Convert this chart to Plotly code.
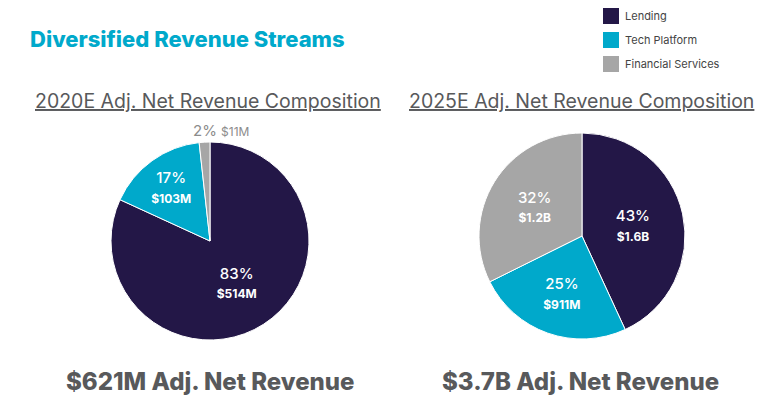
import math
import plotly.graph_objects as go

categories = ["Lending", "Tech Platform", "Financial Services"]
colors = ["#231747", "#00A9CB", "#A6A6A6"]

values_2020 = [514, 103, 11]          # $M
pct_2020 = ["83%", "17%", "2%"]
amt_2020 = ["$514M", "$103M", "$11M"]

values_2025 = [1600, 911, 1200]       # $M
pct_2025 = ["43%", "25%", "32%"]
amt_2025 = ["$1.6B", "$911M", "$1.2B"]

title = "Diversified Revenue Streams"
sub_2020 = "2020E Adj. Net Revenue Composition"
sub_2025 = "2025E Adj. Net Revenue Composition"
total_2020 = "$621M Adj. Net Revenue"
total_2025 = "$3.7B Adj. Net Revenue"

FONT = "Inter"
W, H = 768, 399

tmpl_in = "%{text}<br><span style='font-size:12px'><b>%{customdata}</b></span>"

dom1 = dict(x=[111 / W, 309 / W], y=[1 - 340 / H, 1 - 142 / H])
dom2 = dict(x=[479 / W, 685 / W], y=[1 - 339 / H, 1 - 133 / H])

fig = go.Figure()
fig.add_trace(go.Pie(
    labels=categories, values=values_2020, text=pct_2020, customdata=amt_2020,
    texttemplate=[tmpl_in, tmpl_in, ""],
    textposition="inside",
    insidetextorientation="horizontal",
    insidetextfont=dict(color="white", size=15, family=FONT, weight=500),
    marker=dict(colors=colors, line=dict(color="white", width=1)),
    sort=False, direction="clockwise", rotation=0,
    domain=dom1, hoverinfo="label+value", showlegend=False,
))
fig.add_trace(go.Pie(
    labels=categories, values=values_2025, text=pct_2025, customdata=amt_2025,
    texttemplate=tmpl_in, textposition="inside",
    insidetextorientation="horizontal",
    insidetextfont=dict(color="white", size=15, family=FONT, weight=500),
    marker=dict(colors=colors, line=dict(color="white", width=1)),
    sort=False, direction="clockwise", rotation=0,
    domain=dom2, hoverinfo="label+value", showlegend=False,
))

annots = [
    dict(text=title, x=28 / W, y=1 - 39 / H, xanchor="left", yanchor="middle",
         font=dict(family=FONT, size=22, color="#00A9CB", weight=800)),
    dict(text=f"<u>{sub_2020}</u>", x=208 / W, y=1 - 101 / H, xanchor="center", yanchor="middle",
         font=dict(family=FONT, size=19.5, color="#58595B")),
    dict(text=f"<u>{sub_2025}</u>", x=581 / W, y=1 - 101 / H, xanchor="center", yanchor="middle",
         font=dict(family=FONT, size=19.5, color="#58595B")),
    dict(text=total_2020, x=210 / W, y=1 - 381 / H, xanchor="center", yanchor="middle",
         font=dict(family=FONT, size=24, color="#58595B", weight=800)),
    dict(text=total_2025, x=580 / W, y=1 - 381 / H, xanchor="center", yanchor="middle",
         font=dict(family=FONT, size=24, color="#58595B", weight=800)),
]

# small-slice label (Financial Services 2020) placed just outside its slice, derived from data
tot = sum(values_2020)
start = sum(values_2020[:2]) / tot
mid = (start + values_2020[2] / tot / 2) * 2 * math.pi
cx = (dom1["x"][0] + dom1["x"][1]) / 2
cy = (dom1["y"][0] + dom1["y"][1]) / 2
r_px = (dom1["y"][1] - dom1["y"][0]) * H / 2
lx = cx + (r_px + 12) * math.sin(mid) / W
ly = cy + (r_px + 12) * math.cos(mid) / H
annots.append(dict(
    text=f"{pct_2020[2]} <span style='font-size:12px'>{amt_2020[2]}</span>",
    x=lx, y=ly, xanchor="left", yanchor="middle", xshift=-13,
    font=dict(family=FONT, size=15, color="#8C8C8C")))

# legend built from categories / colours
shapes = []
for i, (cat, col) in enumerate(zip(categories, colors)):
    top = 8 + 24 * i
    shapes.append(dict(type="rect", xref="paper", yref="paper",
                       x0=603 / W, x1=619 / W, y0=1 - (top + 16) / H, y1=1 - top / H,
                       fillcolor=col, line=dict(width=0)))
    annots.append(dict(text=cat, x=623 / W, y=1 - (top + 8) / H, xanchor="left", yanchor="middle",
                       font=dict(family=FONT, size=11, color="#444444")))

for a in annots:
    a.update(xref="paper", yref="paper", showarrow=False)

fig.update_layout(
    width=W, height=H,
    margin=dict(l=0, r=0, t=0, b=0),
    paper_bgcolor="white", plot_bgcolor="white",
    font=dict(family=FONT, color="#444"),
    annotations=annots, shapes=shapes,
    showlegend=False,
)

fig.write_html("out.html", config={"displayModeBar": False},
               post_script="document.body.style.margin='0';document.body.style.overflow='hidden';")
